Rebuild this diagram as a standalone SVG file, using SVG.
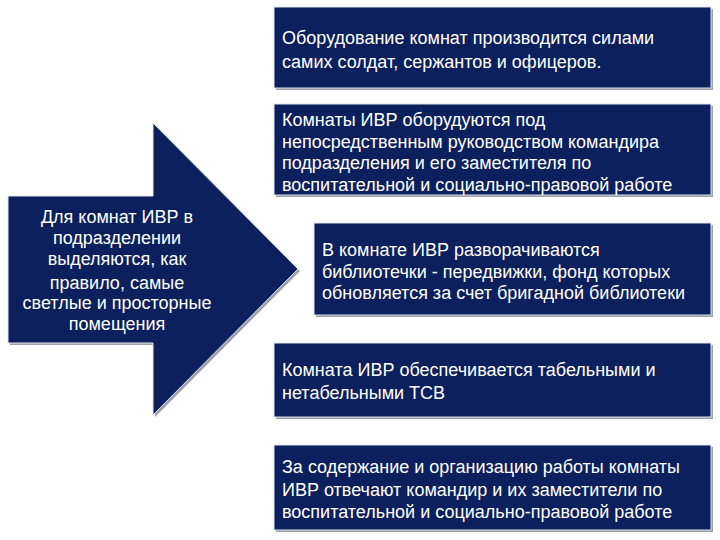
<svg xmlns="http://www.w3.org/2000/svg" width="720" height="540" viewBox="0 0 720 540">
<style>
.box{fill:#0b205d;stroke:#dfe3ea;stroke-width:1}
.sh{fill:#9aa0ab}
.t{font-family:"Liberation Sans",Arial,sans-serif;font-size:18px;fill:#ffffff}
.c{text-anchor:middle}
</style>
<rect width="720" height="540" fill="#ffffff"/>
<g id="arrow">
<polygon class="sh" points="10,198 155,198 155,125 300,271 155,417 155,345 10,345"/>
<polygon class="box" points="8,196 153,196 153,123 298,269 153,415 153,343 8,343"/>
<text class="t c" x="117" y="223">Для комнат ИВР в</text>
<text class="t c" x="117" y="244">подразделении</text>
<text class="t c" x="117" y="265">выделяются, как</text>
<text class="t c" x="117" y="289">правило, самые</text>
<text class="t c" x="117" y="309">светлые и просторные</text>
<text class="t c" x="117" y="330">помещения</text>
</g>
<g id="box1">
<rect class="sh" x="276" y="9" width="437" height="81"/>
<rect class="box" x="274" y="7" width="437" height="81"/>
<text class="t" x="282" y="44">Оборудование комнат производится силами</text>
<text class="t" x="282" y="68">самих солдат, сержантов и офицеров.</text>
</g>
<g id="box2">
<rect class="sh" x="276" y="106" width="437" height="91"/>
<rect class="box" x="274" y="104" width="437" height="91"/>
<text class="t" x="282" y="126">Комнаты ИВР оборудуются под</text>
<text class="t" x="282" y="148">непосредственным руководством командира</text>
<text class="t" x="282" y="169">подразделения и его заместителя по</text>
<text class="t" x="282" y="191">воспитательной и социально-правовой работе</text>
</g>
<g id="box3">
<rect class="sh" x="316" y="225" width="397" height="92"/>
<rect class="box" x="314" y="223" width="397" height="92"/>
<text class="t" x="322" y="256">В комнате ИВР разворачиваются</text>
<text class="t" x="322" y="278">библиотечки - передвижки, фонд которых</text>
<text class="t" x="322" y="299">обновляется за счет бригадной библиотеки</text>
</g>
<g id="box4">
<rect class="sh" x="276" y="345" width="437" height="74"/>
<rect class="box" x="274" y="343" width="437" height="74"/>
<text class="t" x="282" y="376">Комната ИВР обеспечивается табельными и</text>
<text class="t" x="282" y="399">нетабельными ТСВ</text>
</g>
<g id="box5">
<rect class="sh" x="276" y="447" width="437" height="85"/>
<rect class="box" x="274" y="445" width="437" height="85"/>
<text class="t" x="282" y="473">За содержание и организацию работы комнаты</text>
<text class="t" x="282" y="496">ИВР отвечают командир и их заместители по</text>
<text class="t" x="282" y="518">воспитательной и социально-правовой работе</text>
</g>
<g id="connectors"/>
</svg>
